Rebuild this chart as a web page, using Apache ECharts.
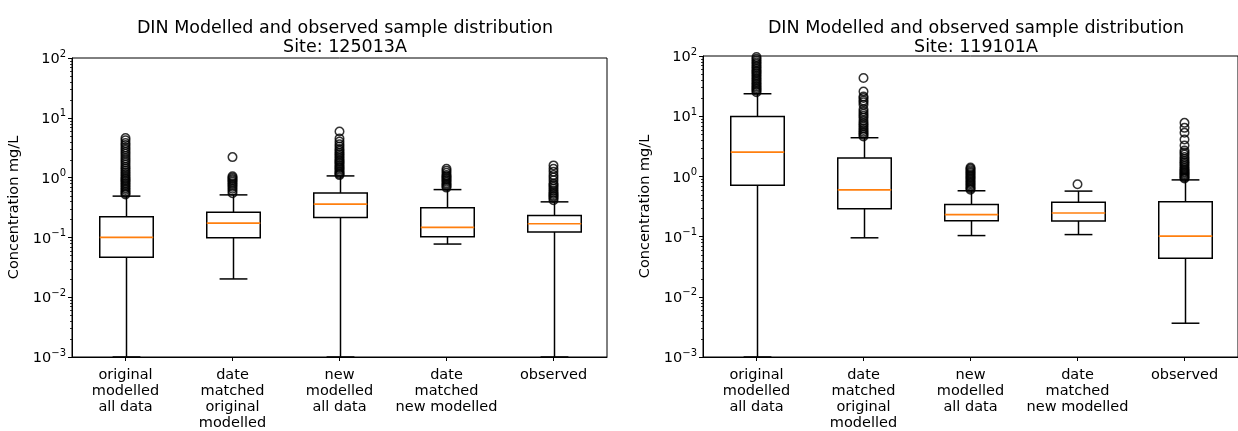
<!DOCTYPE html>
<html>
<head>
<meta charset="utf-8">
<script src="https://cdn.jsdelivr.net/npm/echarts@6/dist/echarts.min.js"></script>
<style>
  html, body { margin: 0; padding: 0; background: #fff; }
  #chart { width: 1238px; height: 431px; }
</style>
</head>
<body>
<div id="chart"></div>
<script>
// ---------- data ----------
const categories = [
  'original\nmodelled\nall data',
  'date\nmatched\noriginal\nmodelled',
  'new\nmodelled\nall data',
  'date\nmatched\nnew modelled',
  'observed'
];
const titleLeft = 'DIN Modelled and observed sample distribution\nSite: 125013A';
const titleRight = 'DIN Modelled and observed sample distribution\nSite: 119101A';
const yAxisName = 'Concentration mg/L';
const yTickExponents = [-3, -2, -1, 0, 1, 2];

// box stats: [low whisker, Q1, median, Q3, high whisker]
const boxes125013A = [
  [0.001, 0.0465, 0.100, 0.221, 0.49],
  [0.0202, 0.0986, 0.173, 0.264, 0.514],
  [0.001, 0.215, 0.360, 0.555, 1.067],
  [0.0774, 0.1026, 0.147, 0.312, 0.63],
  [0.001, 0.123, 0.169, 0.233, 0.393]
];
const boxes119101A = [
  [0.001, 0.716, 2.53, 9.85, 23.6],
  [0.0955, 0.291, 0.598, 2.02, 4.39],
  [0.104, 0.184, 0.232, 0.343, 0.577],
  [0.108, 0.182, 0.247, 0.371, 0.57],
  [0.00364, 0.0436, 0.102, 0.38, 0.875]
];

// outliers per category
const fliers125013A = [
  [0.52, 0.55, 0.58, 0.62, 0.66, 0.7, 0.75, 0.8, 0.85, 0.9, 0.95, 1.0, 1.07, 1.15, 1.23, 1.32, 1.42, 1.52, 1.65, 1.8, 1.95, 2.1, 2.3, 2.5, 2.7, 2.95, 3.2, 3.5, 3.8, 4.2, 4.6],
  [0.55, 0.6, 0.65, 0.7, 0.75, 0.8, 0.85, 0.9, 0.95, 1.0, 1.05, 2.2],
  [1.1, 1.15, 1.2, 1.27, 1.35, 1.43, 1.5, 1.6, 1.7, 1.8, 1.9, 2.0, 2.15, 2.3, 2.45, 2.6, 2.8, 3.0, 3.3, 3.6, 4.0, 4.5, 5.9],
  [0.68, 0.72, 0.76, 0.8, 0.85, 0.9, 0.95, 1.0, 1.05, 1.1, 1.2, 1.3, 1.4],
  [0.42, 0.45, 0.48, 0.5, 0.53, 0.56, 0.6, 0.65, 0.7, 0.75, 0.8, 0.9, 1.0, 1.1, 1.25, 1.4, 1.6]
];
const fliers119101A = [
  [25, 26.5, 28, 29.5, 31, 33, 35, 37, 39.5, 42, 45, 48, 51, 54, 57, 61, 65, 69, 74, 79, 84, 90, 96],
  [4.6, 4.9, 5.2, 5.5, 5.9, 6.3, 6.8, 7.3, 7.8, 8.5, 9.4, 10.2, 11.0, 12.0, 13.0, 15.5, 17.0, 18.3, 20, 21.3, 25.8, 43],
  [0.6, 0.63, 0.66, 0.7, 0.74, 0.78, 0.82, 0.87, 0.92, 0.97, 1.02, 1.08, 1.14, 1.2, 1.27, 1.34, 1.4],
  [0.74],
  [0.92, 0.96, 1.0, 1.05, 1.1, 1.15, 1.2, 1.26, 1.32, 1.4, 1.5, 1.6, 1.7, 1.8, 1.95, 2.1, 2.3, 2.5, 2.7, 3.27, 4.11, 5.3, 6.4, 7.75]
];

// ---------- helpers ----------
const FONT = 'DejaVu Sans';
const minorTickValues = [];
for (let e = -3; e < 2; e++) for (let m = 2; m <= 9; m++) minorTickValues.push([0, m * Math.pow(10, e)]);

function boxData(stats) { return stats.map((s, i) => [i].concat(s)); }
function flierData(fl) {
  const out = [];
  fl.forEach((arr, i) => arr.forEach(v => out.push([i, v])));
  return out;
}

function renderBox(params, api) {
  const x = api.value(0);
  const pLow = api.coord([x, api.value(1)]);
  const pQ1 = api.coord([x, api.value(2)]);
  const pMed = api.coord([x, api.value(3)]);
  const pQ3 = api.coord([x, api.value(4)]);
  const pHigh = api.coord([x, api.value(5)]);
  const band = api.size([1, 0])[0];
  const hb = band * 0.25, hc = band * 0.13;
  const cx = Math.round(pMed[0]) + 0.5;
  const line = { stroke: '#000', lineWidth: 1.5 };
  return {
    type: 'group',
    children: [
      { type: 'line', shape: { x1: cx, y1: pQ3[1], x2: cx, y2: pHigh[1] }, style: line },
      { type: 'line', shape: { x1: cx, y1: pQ1[1], x2: cx, y2: pLow[1] }, style: line },
      { type: 'line', shape: { x1: cx - hc, y1: pHigh[1], x2: cx + hc, y2: pHigh[1] }, style: line },
      { type: 'line', shape: { x1: cx - hc, y1: pLow[1], x2: cx + hc, y2: pLow[1] }, style: line },
      { type: 'rect', shape: { x: cx - hb, y: pQ3[1], width: 2 * hb, height: pQ1[1] - pQ3[1] },
        style: { fill: 'none', stroke: '#000', lineWidth: 1.5 } },
      { type: 'line', shape: { x1: cx - hb, y1: pMed[1], x2: cx + hb, y2: pMed[1] },
        style: { stroke: '#ff7f0e', lineWidth: 1.6 } }
    ]
  };
}

function renderMinor(params, api) {
  const p = api.coord([0, api.value(1)]);
  const band = api.size([1, 0])[0];
  const left = Math.round(p[0] - band / 2) + 0.5;
  const y = Math.round(p[1]) + 0.5;
  return { type: 'line', shape: { x1: left - 2.5, y1: y, x2: left, y2: y },
           style: { stroke: '#000', lineWidth: 0.8 } };
}

function supLabel(v) {
  const e = Math.round(Math.log10(v));
  if (yTickExponents.indexOf(e) < 0) return '';
  return '{b|10}{s|' + (e < 0 ? '\u2212' + (-e) : String(e)) + '}';
}

function xAxisCfg(gi) {
  return {
    type: 'category', gridIndex: gi, data: categories,
    axisLine: { show: true, lineStyle: { color: '#000', width: 1 } },
    axisTick: { show: true, alignWithLabel: true, length: 4, lineStyle: { color: '#000' } },
    axisLabel: { color: '#000', fontFamily: FONT, fontSize: 14.5, lineHeight: 16, margin: 10, interval: 0 },
    splitLine: { show: false }
  };
}
function yAxisCfg(gi) {
  return {
    type: 'log', logBase: 10, gridIndex: gi, min: 0.001, max: 100,
    name: yAxisName, nameLocation: 'middle', nameGap: 50, nameRotate: 90,
    nameTextStyle: { color: '#000', fontFamily: FONT, fontSize: 14.5 },
    axisLine: { show: true, lineStyle: { color: '#000', width: 1 } },
    axisTick: { show: true, length: 4, lineStyle: { color: '#000' } },
    axisLabel: {
      color: '#000', margin: 6, formatter: supLabel,
      rich: {
        b: { fontFamily: FONT, fontSize: 14.5, lineHeight: 18, verticalAlign: 'bottom', color: '#000' },
        s: { fontFamily: FONT, fontSize: 10, lineHeight: 8, verticalAlign: 'top', color: '#000' }
      }
    },
    splitLine: { show: false }, minorTick: { show: false }
  };
}
function seriesFor(idx, boxes, fliers) {
  return [
    { type: 'custom', xAxisIndex: idx, yAxisIndex: idx, renderItem: renderBox,
      data: boxData(boxes), encode: { x: 0, y: [1, 2, 3, 4, 5] }, clip: true, z: 3, silent: true },
    { type: 'scatter', xAxisIndex: idx, yAxisIndex: idx, data: flierData(fliers),
      symbol: 'circle', symbolSize: 8.5,
      itemStyle: { color: 'rgba(0,0,0,0)', borderColor: '#000', borderWidth: 1.5 }, z: 4, silent: true },
    { type: 'custom', xAxisIndex: idx, yAxisIndex: idx, renderItem: renderMinor,
      data: minorTickValues, encode: { x: 0, y: 1 }, clip: false, z: 5, silent: true }
  ];
}

const chart = echarts.init(document.getElementById('chart'), null, { renderer: 'canvas' });
chart.setOption({
  animation: false,
  backgroundColor: '#fff',
  textStyle: { fontFamily: FONT },
  title: [
    { text: titleLeft, left: 340, top: 14, textAlign: 'center',
      textStyle: { fontFamily: FONT, fontSize: 17.5, fontWeight: 'normal', color: '#000', lineHeight: 19 } },
    { text: titleRight, left: 971, top: 14, textAlign: 'center',
      textStyle: { fontFamily: FONT, fontSize: 17.5, fontWeight: 'normal', color: '#000', lineHeight: 19 } }
  ],
  grid: [
    { left: 72, top: 58, width: 535, height: 300, show: true, borderColor: '#000', borderWidth: 1, backgroundColor: 'transparent' },
    { left: 703, top: 56, width: 537, height: 303, show: true, borderColor: '#000', borderWidth: 1, backgroundColor: 'transparent' }
  ],
  xAxis: [xAxisCfg(0), xAxisCfg(1)],
  yAxis: [yAxisCfg(0), yAxisCfg(1)],
  series: seriesFor(0, boxes125013A, fliers125013A).concat(seriesFor(1, boxes119101A, fliers119101A))
});
</script>
</body>
</html>
